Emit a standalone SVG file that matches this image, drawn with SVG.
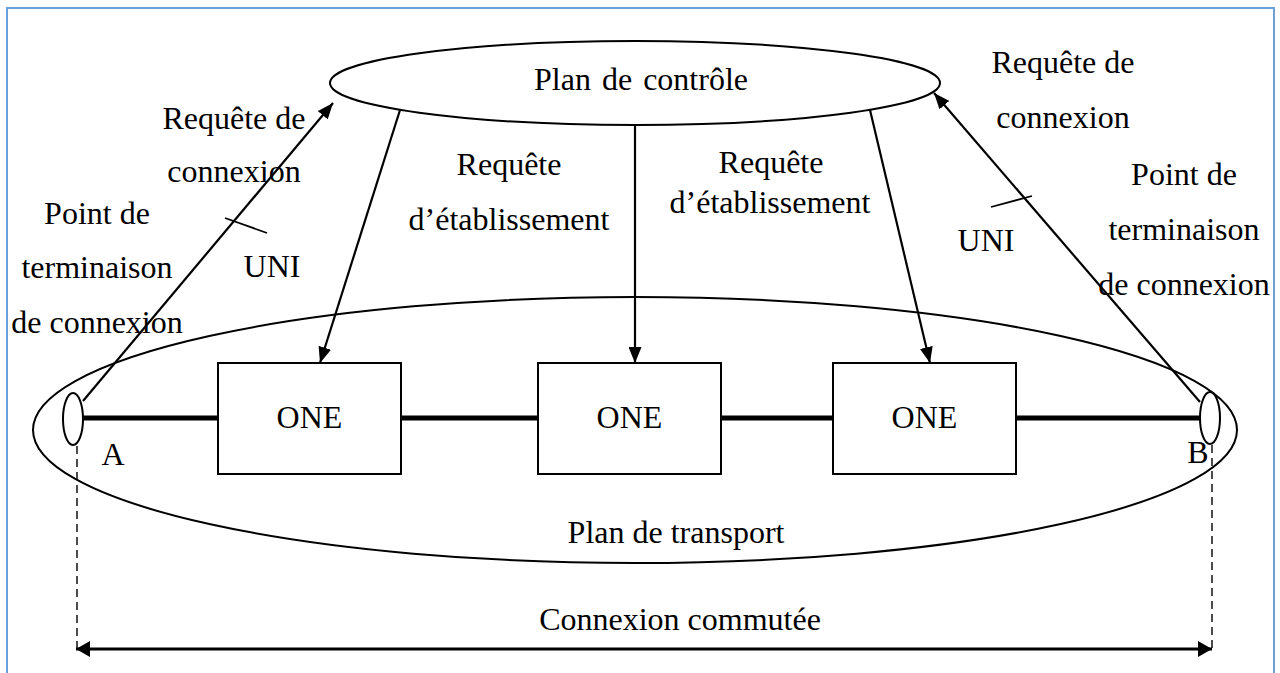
<svg xmlns="http://www.w3.org/2000/svg" width="1280" height="673" viewBox="0 0 1280 673">
  <style>
    .t { font-family: "Liberation Serif", "Times New Roman", serif; font-size: 32px; fill: #000; text-anchor: middle; }
    .shape { fill: #fff; stroke: #000; stroke-width: 2; }
    .ring { fill: none; stroke: #000; stroke-width: 2; }
    .arrow { fill: none; stroke: #000; stroke-width: 2.2; marker-end: url(#head); }
    .link { stroke: #000; stroke-width: 5; }
    .tick { stroke: #000; stroke-width: 1.8; }
    .dash { stroke: #000; stroke-width: 1.4; stroke-dasharray: 8 5; }
  </style>
  <defs>
    <marker id="head" viewBox="0 0 16 13" refX="16" refY="6.5" markerWidth="16" markerHeight="13" markerUnits="userSpaceOnUse" orient="auto">
      <path d="M0,0 L16,6.5 L0,13 Z" fill="#000"/>
    </marker>
    <marker id="spanEnd" viewBox="0 0 14 16" refX="14" refY="8" markerWidth="14" markerHeight="16" markerUnits="userSpaceOnUse" orient="auto">
      <path d="M0,0 L14,8 L0,16 Z" fill="#000"/>
    </marker>
    <marker id="spanStart" viewBox="0 0 14 16" refX="0" refY="8" markerWidth="14" markerHeight="16" markerUnits="userSpaceOnUse" orient="auto">
      <path d="M14,0 L0,8 L14,16 Z" fill="#000"/>
    </marker>
  </defs>

  <rect x="0" y="0" width="1280" height="673" fill="#fff"/>
  <!-- outer frame -->
  <rect x="7" y="8" width="1267" height="700" fill="none" stroke="#6A9FD8" stroke-width="2"/>

  <!-- transport plane -->
  <g id="transport-plane">
    <ellipse class="ring" cx="635" cy="430" rx="602" ry="133"/>
    <text class="t" x="676" y="543">Plan de transport</text>
  </g>

  <!-- control plane -->
  <g id="control-plane">
    <ellipse class="shape" cx="635" cy="83" rx="305" ry="42"/>
    <text class="t" x="641" y="90" style="word-spacing:3px">Plan de contrôle</text>
  </g>

  <!-- optical network elements -->
  <g id="one-1">
    <rect class="shape" x="218" y="363" width="183" height="111"/>
    <text class="t" x="309.5" y="428">ONE</text>
  </g>
  <g id="one-2">
    <rect class="shape" x="538" y="363" width="183" height="111"/>
    <text class="t" x="629.5" y="428">ONE</text>
  </g>
  <g id="one-3">
    <rect class="shape" x="833" y="363" width="183" height="111"/>
    <text class="t" x="924.5" y="428">ONE</text>
  </g>

  <!-- termination points -->
  <g id="point-a">
    <ellipse class="shape" cx="73" cy="419" rx="10" ry="26"/>
    <text class="t" x="113" y="465">A</text>
  </g>
  <g id="point-b">
    <ellipse class="shape" cx="1210" cy="418" rx="10" ry="26"/>
    <text class="t" x="1198" y="463">B</text>
  </g>

  <!-- connectors -->
  <g id="connectors">
    <line class="link" x1="83" y1="418" x2="218" y2="418"/>
    <line class="link" x1="401" y1="418" x2="538" y2="418"/>
    <line class="link" x1="721" y1="418" x2="833" y2="418"/>
    <line class="link" x1="1016" y1="418" x2="1200" y2="418"/>

    <line class="arrow" x1="83" y1="401" x2="333" y2="103"/>
    <line class="arrow" x1="1200" y1="402" x2="934" y2="93"/>
    <line class="arrow" x1="400" y1="110" x2="320" y2="363"/>
    <line class="arrow" x1="635" y1="125" x2="635" y2="363"/>
    <line class="arrow" x1="870" y1="110" x2="930" y2="363"/>

    <line class="tick" x1="225" y1="218" x2="267" y2="233"/>
    <line class="tick" x1="991" y1="207" x2="1032" y2="196"/>

    <line class="dash" x1="77" y1="446" x2="77" y2="652"/>
    <line class="dash" x1="1212" y1="445" x2="1212" y2="652"/>
    <line x1="76" y1="649" x2="1212" y2="649" stroke="#000" stroke-width="3" marker-start="url(#spanStart)" marker-end="url(#spanEnd)"/>
  </g>

  <!-- labels -->
  <g id="labels">
    <text class="t" x="234" y="129">Requête de</text>
    <text class="t" x="234" y="182">connexion</text>
    <text class="t" x="97" y="224">Point de</text>
    <text class="t" x="97" y="278">terminaison</text>
    <text class="t" x="97" y="333">de connexion</text>
    <text class="t" x="272" y="277">UNI</text>

    <text class="t" x="509" y="175">Requête</text>
    <text class="t" x="509" y="230">d’établissement</text>
    <text class="t" x="771" y="173">Requête</text>
    <text class="t" x="770" y="213">d’établissement</text>

    <text class="t" x="1063" y="73">Requête de</text>
    <text class="t" x="1063" y="128">connexion</text>
    <text class="t" x="1184" y="185">Point de</text>
    <text class="t" x="1184" y="240">terminaison</text>
    <text class="t" x="1184" y="295">de connexion</text>
    <text class="t" x="986" y="251">UNI</text>

    <text class="t" x="680" y="630">Connexion commutée</text>
  </g>
</svg>
